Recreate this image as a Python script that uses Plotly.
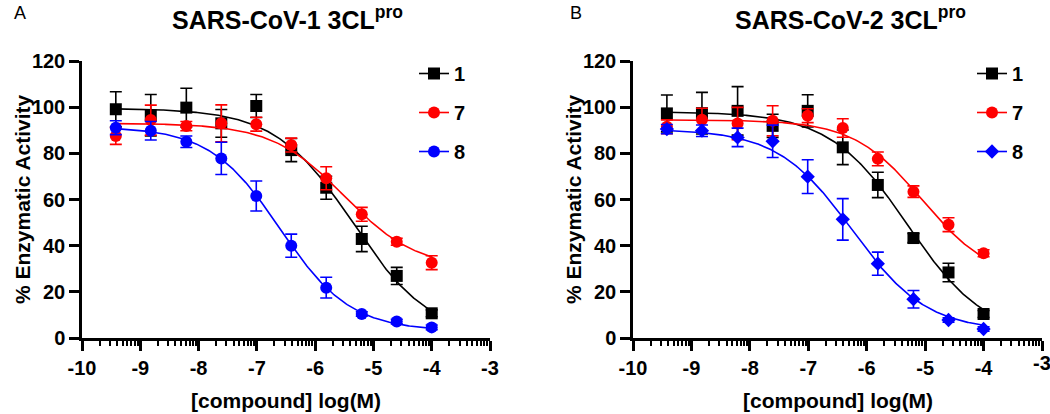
import numpy as np
import plotly.graph_objects as go

# ---------------- data ----------------
log_conc = [-9.42, -8.82, -8.21, -7.61, -7.01, -6.41, -5.81, -5.20, -4.60, -4.00]
compounds = ["1", "7", "8"]
colors = ["#000000", "#FF0000", "#0000FF"]
symbols_a = ["square", "circle", "circle"]
symbols_b = ["square", "circle", "diamond"]

# Panel A: SARS-CoV-1 3CLpro
a1_mean = [99.1, 96.5, 99.8, 93.0, 100.5, 81.4, 65.1, 42.9, 26.9, 10.7]
a1_err = [7.6, 9.0, 8.4, 6.0, 5.0, 5.0, 5.0, 5.5, 3.7, 1.5]
a7_mean = [87.5, 94.4, 91.8, 93.0, 92.6, 83.6, 69.2, 53.6, 41.7, 32.6]
a7_err = [3.6, 6.5, 2.0, 8.0, 3.0, 3.0, 5.0, 3.0, 1.5, 3.0]
a8_mean = [91.1, 89.8, 85.0, 77.8, 61.5, 40.0, 21.8, 10.4, 7.1, 4.6]
a8_err = [3.0, 4.0, 2.5, 7.0, 6.5, 5.0, 4.5, 1.0, 1.0, 1.0]

# Panel B: SARS-CoV-2 3CLpro
b1_mean = [97.3, 97.4, 98.4, 91.9, 98.4, 82.6, 66.3, 43.3, 28.4, 10.4]
b1_err = [8.0, 9.0, 10.5, 5.0, 7.0, 7.5, 5.5, 2.0, 4.0, 1.5]
b7_mean = [91.5, 94.5, 92.9, 94.1, 96.3, 91.0, 77.6, 63.4, 49.1, 36.7]
b7_err = [3.0, 5.0, 7.0, 6.5, 3.0, 4.0, 3.0, 2.5, 3.0, 1.5]
b8_mean = [90.5, 89.8, 86.9, 85.2, 69.9, 51.4, 32.2, 16.8, 7.8, 3.9]
b8_err = [2.0, 2.5, 4.0, 7.0, 7.3, 9.0, 5.0, 3.8, 1.0, 1.0]

# four-parameter logistic fit parameters (top, bottom, logIC50, hill)
fit_a = [(99.5, 0.0, -5.35, 0.65), (93.0, 30.0, -5.50, 0.70), (91.5, 3.0, -6.60, 0.72)]
fit_b = [(98.0, 0.0, -5.30, 0.65), (94.5, 25.0, -5.05, 0.74), (90.5, 3.0, -6.25, 0.68)]

x_ticks = [-10, -9, -8, -7, -6, -5, -4, -3]
x_ticktext = ["-10", "-9", "-8", "-7", "-6", "-5", "-4", "-3"]
y_ticks = [0, 20, 40, 60, 80, 100, 120]
panel_titles = ["SARS-CoV-1 3CL<sup>pro</sup>", "SARS-CoV-2 3CL<sup>pro</sup>"]
panel_letters = ["A", "B"]
x_title = "[compound] log(M)"
y_title = "% Enzymatic Activity"


def four_pl(x, top, bottom, logic50, hill):
    return bottom + (top - bottom) / (1 + 10 ** ((x - logic50) * hill))


FONT = "Liberation Sans, Arial, sans-serif"
W, H = 1050, 414

fig = go.Figure()

panels = [
    ("x", "y", [a1_mean, a7_mean, a8_mean], [a1_err, a7_err, a8_err], fit_a, symbols_a, "legend"),
    ("x2", "y2", [b1_mean, b7_mean, b8_mean], [b1_err, b7_err, b8_err], fit_b, symbols_b, "legend2"),
]

xc = np.linspace(log_conc[0], log_conc[-1], 300)
for xa, ya, means, errs, fits, syms, leg in panels:
    for i, name in enumerate(compounds):
        col = colors[i]
        size = 12 if syms[i] != "diamond" else 11
        fig.add_trace(go.Scatter(
            x=xc, y=four_pl(xc, *fits[i]), mode="lines",
            line=dict(color=col, width=1.6), xaxis=xa, yaxis=ya,
            showlegend=False, hoverinfo="skip"))
        fig.add_trace(go.Scatter(
            x=log_conc, y=means[i], mode="markers",
            marker=dict(symbol=syms[i], size=size, color=col),
            error_y=dict(type="data", array=errs[i], visible=True,
                         color=col, thickness=1.6, width=6),
            xaxis=xa, yaxis=ya, showlegend=False))
        # legend entry
        fig.add_trace(go.Scatter(
            x=[None], y=[None], mode="lines+markers", name=name,
            line=dict(color=col, width=1.6),
            marker=dict(symbol=syms[i], size=size, color=col),
            xaxis=xa, yaxis=ya, legend=leg, legendgroup=leg + name,
            showlegend=True))

minor_vals = [d + np.log10(k) for d in range(-10, -3) for k in range(2, 10)]
minor_style = dict(tickvals=minor_vals, ticklen=5, tickwidth=2, tickcolor="black", ticks="outside")

axis_common = dict(
    showline=True, linecolor="black", linewidth=2.5,
    ticks="outside", ticklen=10, tickwidth=2.5, tickcolor="black",
    showgrid=False, zeroline=False,
    tickfont=dict(family=FONT, size=20, color="black", weight="bold"),
    automargin=False,
)

px_l = [(82, 490), (633, 1042)]
y_top, y_bot = 61, 338
ydom = [(H - y_bot) / H, (H - y_top) / H]

fig.update_layout(
    width=W, height=H,
    margin=dict(l=0, r=0, t=0, b=0),
    paper_bgcolor="white", plot_bgcolor="white",
    font=dict(family=FONT, color="black"),
    xaxis=dict(domain=[px_l[0][0] / W, px_l[0][1] / W], range=[-10, -3],
               tickvals=x_ticks, ticktext=x_ticktext, anchor="y",
               minor=minor_style, **axis_common),
    yaxis=dict(domain=ydom, range=[0, 120], tickvals=y_ticks, anchor="x", **axis_common),
    xaxis2=dict(domain=[px_l[1][0] / W, px_l[1][1] / W], range=[-10, -3],
                tickvals=x_ticks, ticktext=x_ticktext[:-1] + [" "], anchor="y2",
                minor=minor_style, **axis_common),
    yaxis2=dict(domain=ydom, range=[0, 120], tickvals=y_ticks, anchor="x2", **axis_common),
    legend=dict(x=414 / W, y=1 - 54 / H, xanchor="left", yanchor="top",
                font=dict(family=FONT, size=20, color="black", weight="bold"),
                bgcolor="rgba(0,0,0,0)", tracegroupgap=10, itemwidth=30),
    legend2=dict(x=972 / W, y=1 - 54 / H, xanchor="left", yanchor="top",
                 font=dict(family=FONT, size=20, color="black", weight="bold"),
                 bgcolor="rgba(0,0,0,0)", tracegroupgap=10, itemwidth=30),
)

annotations = []
centers_title = [287, 850]
letter_x = [20, 576]
for k in range(2):
    x0, x1 = px_l[k]
    annotations.append(dict(text=panel_titles[k], x=centers_title[k] / W, y=1 - 18 / H,
                            xref="paper", yref="paper", showarrow=False,
                            xanchor="center", yanchor="middle",
                            font=dict(family=FONT, size=25, color="black", weight="bold")))
    annotations.append(dict(text=panel_letters[k], x=letter_x[k] / W, y=1 - 13 / H,
                            xref="paper", yref="paper", showarrow=False,
                            xanchor="center", yanchor="middle",
                            font=dict(family=FONT, size=18, color="black")))
    annotations.append(dict(text=x_title, x=(x0 + x1) / 2 / W, y=1 - 400 / H,
                            xref="paper", yref="paper", showarrow=False,
                            xanchor="center", yanchor="middle",
                            font=dict(family=FONT, size=21, color="black", weight="bold")))
    annotations.append(dict(text=y_title, x=(x0 - 60) / W, y=1 - 199 / H,
                            xref="paper", yref="paper", showarrow=False, textangle=-90,
                            xanchor="center", yanchor="middle",
                            font=dict(family=FONT, size=21, color="black", weight="bold")))
# right-most tick label of panel B sits at the page edge (partly cut, as in the reference)
annotations.append(dict(text=x_ticktext[-1], x=x_ticks[-1], xref="x2", y=1 - 363 / H, yref="paper",
                        showarrow=False, xanchor="center", yanchor="middle",
                        font=dict(family=FONT, size=20, color="black", weight="bold")))
fig.update_layout(annotations=annotations)

fig.write_html(
    "out.html",
    config={"displayModeBar": False},
    post_script="document.body.style.margin='0';document.body.style.overflow='hidden';",
)
